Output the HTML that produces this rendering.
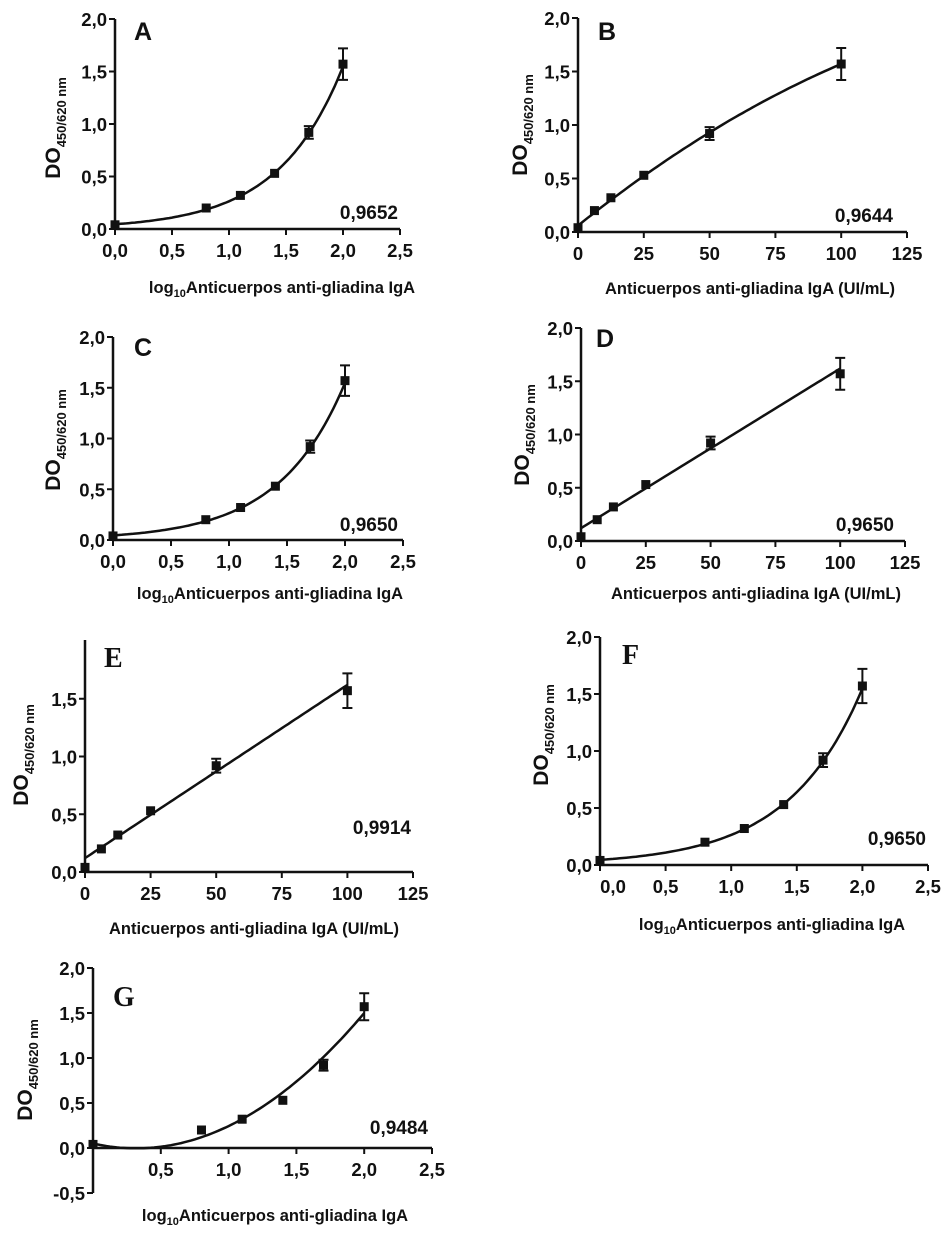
<!DOCTYPE html>
<html><head><meta charset="utf-8"><style>
body{margin:0;background:#fff}
svg{display:block}
text{font-family:"Liberation Sans",sans-serif;font-weight:bold;fill:#111}
</style></head><body>
<svg id="s" width="952" height="1234" viewBox="0 0 952 1234" xmlns="http://www.w3.org/2000/svg"></svg>
<script>
// data
const logX = [0, 0.8, 1.1, 1.4, 1.7, 2.0];
const linX = [0, 6.25, 12.5, 25, 50, 100];
const odY = [0.04, 0.20, 0.32, 0.53, 0.92, 1.57];
const errY = [0, 0.02, 0.02, 0.02, 0.06, 0.15];
const r2Labels = ["0,9652","0,9644","0,9650","0,9650","0,9914","0,9650","0,9484"];
const expFit = [0.045, 1.769];
const quadFitB = [0.06, 0.0197, -0.000046];
const linFit = [0.12, 0.015];
const quadFitG = [0.05, -0.3375, 0.531];
const logTicks = [0, 0.5, 1.0, 1.5, 2.0, 2.5];
const linTicks = [0, 25, 50, 75, 100, 125];
const yTicks = [0, 0.5, 1.0, 1.5, 2.0];
const yTicksE = [0, 0.5, 1.0, 1.5];
const yTicksG = [-0.5, 0, 0.5, 1.0, 1.5, 2.0];

const svg = document.getElementById('s');
const NS = 'http://www.w3.org/2000/svg';
function mk(tag, at, parent){const e=document.createElementNS(NS,tag);for(const k in at)e.setAttribute(k,at[k]);(parent||svg).appendChild(e);return e;}
const fmt = v => (v<0?'-':'')+Math.abs(v).toFixed(1).replace('.',',');

function panel(p){
  const g = mk('g',{});
  
  
  const X = v => p.x0 + (v - p.xmin)/(p.xmax - p.xmin)*(p.x1 - p.x0);
  const Y = v => p.y0 - (v - 0)/(2.0)*(p.y0 - p.y2);
  const yAxisTop = p.yTop!==undefined ? p.yTop : Y(2.0);
  const yAxisBot = Y(p.yTicks[0]);
  const ax = mk('line',{x1:p.x0,y1:yAxisTop,x2:p.x0,y2:yAxisBot,stroke:'#111','stroke-width':2.5},g);
  
  
  const xa = mk('line',{x1:p.x0,y1:Y(0),x2:X(p.xmax),y2:Y(0),stroke:'#111','stroke-width':2.5},g);
  
  
  p.yTicks.forEach(v=>{
    mk('line',{x1:p.x0-6,y1:Y(v),x2:p.x0,y2:Y(v),stroke:'#111','stroke-width':2},g);
    const t=mk('text',{x:p.x0-8,y:Y(v)+7,'text-anchor':'end','font-size':18.5},g);
    t.textContent=fmt(v);
    
    
  });
  p.xTicks.forEach((v,i)=>{
    if(p.skipFirstX && i===0) return;
    mk('line',{x1:X(v),y1:Y(0),x2:X(v),y2:Y(0)+6,stroke:'#111','stroke-width':2},g);
    const t=mk('text',{x:X(v)+(i===0&&p.shift0?p.shift0:0),y:Y(0)+28,'text-anchor':'middle','font-size':18.5},g);
    t.textContent = p.log ? fmt(v) : String(v);
    
    
  });
  let d='';
  const lo = p.fitFrom!==undefined?p.fitFrom:p.xs[0], hi=p.xs[p.xs.length-1];
  for(let i=0;i<=80;i++){const xv=lo+(hi-lo)*i/80;d+=(i?'L':'M')+X(xv).toFixed(1)+','+Y(p.fit(xv)).toFixed(1);}
  const c=mk('path',{d:d,fill:'none',stroke:'#111','stroke-width':2.5},g);
  
  
  p.xs.forEach((xv,i)=>{
    const cx=X(xv), cy=Y(odY[i]);
    if(errY[i]>0.03){
      const e1=Y(odY[i]+errY[i]), e2=Y(odY[i]-errY[i]);
      const eb=mk('path',{d:`M${cx},${e1}V${e2}M${cx-5},${e1}H${cx+5}M${cx-5},${e2}H${cx+5}`,stroke:'#111','stroke-width':2,fill:'none'},g);
      
      
    }
    const r=mk('rect',{x:cx-4.5,y:cy-4.5,width:9,height:9,fill:'#111'},g);
    
    
  });
  const L=mk('text',{x:p.lx,y:p.ly,'font-size':25},g);
  if(p.serif){L.setAttribute('style','font-family:"Liberation Serif",serif');L.setAttribute('font-size',28);}
  L.textContent=p.id;
  
  
  const R=mk('text',{x:p.rx,y:p.ry,'text-anchor':'end','font-size':19},g);
  R.textContent=p.r2;
  
  
  const xt=mk('text',{x:p.xtx,y:p.xty,'text-anchor':'middle','font-size':16.5},g);
  
  
  if(p.log){xt.innerHTML='log<tspan font-size="11" dy="4">10</tspan><tspan dy="-4">Anticuerpos anti-gliadina IgA</tspan>';}
  else xt.textContent='Anticuerpos anti-gliadina IgA (UI/mL)';
  const yt=mk('text',{transform:`translate(${p.ytx},${p.yty}) rotate(-90)`,'text-anchor':'middle','font-size':21},g);
  
  
  yt.innerHTML='DO<tspan font-size="13" dy="6">450/620 nm</tspan>';
}
const expF = x=>expFit[0]*Math.exp(expFit[1]*x);
const qB = x=>quadFitB[0]+quadFitB[1]*x+quadFitB[2]*x*x;
const linF = x=>linFit[0]+linFit[1]*x;
const qG = x=>quadFitG[0]+quadFitG[1]*x+quadFitG[2]*x*x;

panel({id:'A',log:true,xs:logX,fit:expF,x0:115,x1:400,xmin:0,xmax:2.5,y0:229,y2:19,yTicks:yTicks,xTicks:logTicks,lx:134,ly:40,rx:398,ry:219,r2:r2Labels[0],xtx:282,xty:293,ytx:60,yty:128});
panel({id:'B',log:false,xs:linX,fit:qB,fitFrom:0,x0:578,x1:907,xmin:0,xmax:125,y0:232,y2:18,yTicks:yTicks,xTicks:linTicks,lx:598,ly:40,rx:893,ry:222,r2:r2Labels[1],xtx:750,xty:294,ytx:527,yty:125});
panel({id:'C',log:true,xs:logX,fit:expF,x0:113,x1:403,xmin:0,xmax:2.5,y0:540,y2:337,yTicks:yTicks,xTicks:logTicks,lx:134,ly:356,rx:398,ry:531,r2:r2Labels[2],xtx:270,xty:599,ytx:60,yty:440});
panel({id:'D',log:false,xs:linX,fit:linF,fitFrom:0,x0:581,x1:905,xmin:0,xmax:125,y0:541,y2:328,yTicks:yTicks,xTicks:linTicks,lx:596,ly:347,rx:0,ry:0,r2:'',xtx:756,xty:599,ytx:529,yty:435});
panel({id:'E',serif:true,log:false,xs:linX,fit:linF,fitFrom:0,x0:85,x1:413,xmin:0,xmax:125,y0:872,y2:641,yTop:640,yTicks:yTicksE,xTicks:linTicks,lx:104,ly:667,rx:411,ry:834,r2:r2Labels[4],xtx:254,xty:934,ytx:28,yty:755});
panel({id:'F',serif:true,log:true,xs:logX,fit:expF,x0:600,x1:928,xmin:0,xmax:2.5,y0:865,y2:637,yTicks:yTicks,xTicks:logTicks,shift0:13,lx:622,ly:664,rx:926,ry:845,r2:r2Labels[5],xtx:772,xty:930,ytx:548,yty:735});
panel({id:'G',serif:true,log:true,xs:logX,fit:qG,fitFrom:0,x0:93,x1:432,xmin:0,xmax:2.5,y0:1148,y2:968,yTicks:yTicksG,xTicks:logTicks,skipFirstX:true,lx:113,ly:1006,rx:428,ry:1134,r2:r2Labels[6],xtx:275,xty:1221,ytx:32,yty:1070});
const rd=mk('text',{x:894,y:531,'text-anchor':'end','font-size':19});
rd.textContent=r2Labels[3];


</script>
</body></html>
